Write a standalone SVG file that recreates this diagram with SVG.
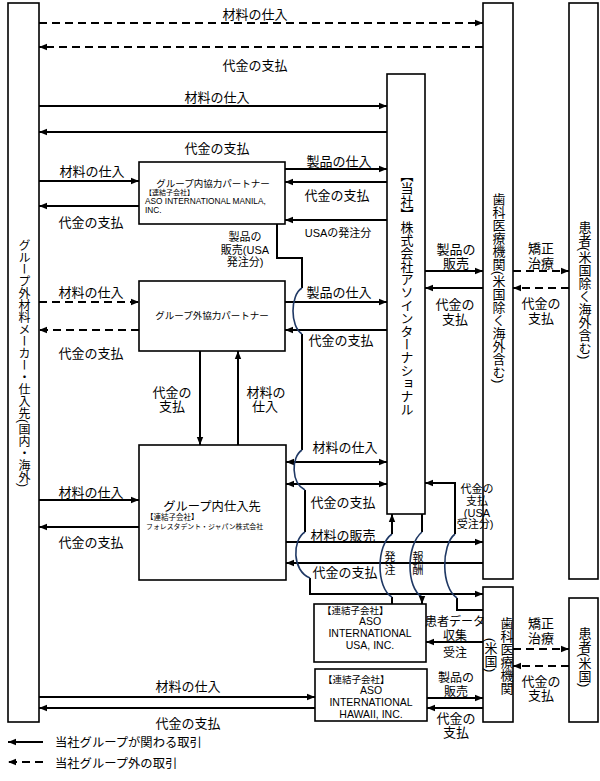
<svg xmlns="http://www.w3.org/2000/svg" width="600" height="781" viewBox="0 0 600 781">
<style>
.box{fill:#fff;stroke:#000;stroke-width:1.6}
.ln{fill:none;stroke:#000;stroke-width:2}
.ds{fill:none;stroke:#000;stroke-width:2;stroke-dasharray:8 5}
.hop{fill:none;stroke:#1f3864;stroke-width:1.6}
text{font-family:"Liberation Sans","Noto Sans CJK JP",sans-serif;fill:#000}
.lb{font-size:13px;text-anchor:middle}
.lb2{font-size:12px;text-anchor:middle}
.sm{font-size:11px;text-anchor:middle}
.vt{font-size:13px;text-anchor:middle;writing-mode:vertical-rl}
.tiny{font-size:7px}
.en{font-size:10.5px;text-anchor:middle}
</style>
<defs>
<marker id="ah" viewBox="0 0 10 10" refX="10" refY="5" markerWidth="8" markerHeight="8" markerUnits="userSpaceOnUse" orient="auto-start-reverse"><path d="M0,1 L10,5 L0,9 z" fill="#000"/></marker>
</defs>

<g id="left-supplier"><rect class="box" x="8" y="3" width="31" height="719"/><text class="vt" x="23" y="363" style="font-size:12px">グループ外材料メーカー・仕入先(国内・海外)</text></g>
<g id="company"><rect class="box" x="387" y="74" width="38" height="440"/><text class="vt" x="406" y="292">【当社】株式会社アソインターナショナル</text></g>
<g id="dental-nonus"><rect class="box" x="483" y="3" width="30" height="576"/><text class="vt" x="498" y="288">歯科医療機関(米国除く海外含む)</text></g>
<g id="patient-nonus"><rect class="box" x="569" y="3" width="29" height="576"/><text class="vt" x="584" y="290">患者(米国除く海外含む)</text></g>
<g id="dental-us"><rect class="box" x="483" y="587" width="30" height="135"/><text class="vt" x="506" y="656">歯科医療機関</text><text class="vt" x="490" y="655">(米国)</text></g>
<g id="patient-us"><rect class="box" x="569" y="598" width="29" height="124"/><text class="vt" x="584" y="657">患者(米国)</text></g>
<g id="manila"><rect class="box" x="139" y="162" width="146" height="62"/>
<text x="213" y="187" style="font-size:9.5px;text-anchor:middle">グループ内協力パートナー</text>
<text class="tiny" x="145" y="195">【連結子会社】</text>
<text x="145" y="204" style="font-size:8.3px">ASO INTERNATIONAL MANILA,</text>
<text x="145" y="213" style="font-size:8.3px">INC.</text></g>
<g id="outside-partner"><rect class="box" x="139" y="281" width="146" height="70"/><text x="212" y="319" style="font-size:9.5px;text-anchor:middle">グループ外協力パートナー</text></g>
<g id="internal-supplier"><rect class="box" x="139" y="445" width="147" height="135"/>
<text x="212" y="511" style="font-size:12.3px;text-anchor:middle">グループ内仕入先</text>
<text x="146" y="520" style="font-size:7.5px">【連結子会社】</text>
<text x="146" y="529" style="font-size:6.9px">フォレスタデント・ジャパン株式会社</text></g>
<g id="aso-usa"><rect class="box" x="314" y="604" width="112" height="58"/>
<text x="322" y="614" style="font-size:9.5px">【連結子会社】</text>
<text class="en" x="370" y="625">ASO</text><text class="en" x="370" y="637">INTERNATIONAL</text><text class="en" x="370" y="649">USA, INC.</text></g>
<g id="aso-hawaii"><rect class="box" x="315" y="669" width="112" height="52"/>
<text x="323" y="683" style="font-size:9.5px">【連結子会社】</text>
<text class="en" x="371" y="694">ASO</text><text class="en" x="371" y="706">INTERNATIONAL</text><text class="en" x="371" y="718">HAWAII, INC.</text></g>

<g id="connectors">
<path class="ds" d="M39,23 H483" marker-end="url(#ah)"/>
<path class="ds" d="M483,47 H39" marker-end="url(#ah)"/>
<path class="ln" d="M39,106 H387" marker-end="url(#ah)"/>
<path class="ln" d="M387,132 H39" marker-end="url(#ah)"/>
<path class="ln" d="M39,181 H139" marker-end="url(#ah)"/>
<path class="ln" d="M139,206 H39" marker-end="url(#ah)"/>
<path class="ln" d="M285,169 H387" marker-end="url(#ah)"/>
<path class="ln" d="M387,182 H285" marker-end="url(#ah)"/>
<path class="ln" d="M387,220 H285" marker-end="url(#ah)"/>
<path class="ds" d="M39,302 H139" marker-end="url(#ah)"/>
<path class="ds" d="M139,330 H39" marker-end="url(#ah)"/>
<path class="ln" d="M285,302 H387" marker-end="url(#ah)"/>
<path class="ln" d="M387,330 H285" marker-end="url(#ah)"/>
<path class="ln" d="M200,351 V445" marker-end="url(#ah)"/>
<path class="ln" d="M238,445 V351" marker-end="url(#ah)"/>
<path class="ln" d="M39,500 H139" marker-end="url(#ah)"/>
<path class="ln" d="M139,527 H39" marker-end="url(#ah)"/>
<path class="ln" d="M286,462 H387" marker-start="url(#ah)" marker-end="url(#ah)"/>
<path class="ln" d="M286,484 H387" marker-start="url(#ah)" marker-end="url(#ah)"/>
<path class="ln" d="M286,542 H483" marker-end="url(#ah)"/>
<path class="ln" d="M483,563 H286" marker-end="url(#ah)"/>
<path class="ln" d="M425,271 H483" marker-end="url(#ah)"/>
<path class="ln" d="M483,288 H425" marker-end="url(#ah)"/>
<path class="ds" d="M513,271 H569" marker-end="url(#ah)"/>
<path class="ds" d="M569,288 H513" marker-end="url(#ah)"/>
<path class="ln" d="M483,642 H426" marker-end="url(#ah)"/>
<path class="ln" d="M427,698 H483" marker-end="url(#ah)"/>
<path class="ln" d="M483,708 H427" marker-end="url(#ah)"/>
<path class="ds" d="M513,649 H569" marker-end="url(#ah)"/>
<path class="ds" d="M569,666 H513" marker-end="url(#ah)"/>
<path class="ln" d="M39,697 H315" marker-end="url(#ah)"/>
<path class="ln" d="M315,708 H39" marker-end="url(#ah)"/>
<!-- Manila sales (USA orders) -->
<path class="ln" d="M277,224 V258 H302 V288 M302,334 V450 M305,490 V532 M310,578 V594 H483" marker-end="url(#ah)"/>
<path class="hop" d="M302,288 C290,295 290,327 302,334"/>
<path class="hop" d="M302,450 C291,457 291,483 305,490"/>
<path class="hop" d="M305,532 C292,540 292,571 310,578"/>
<!-- order -->
<path class="ln" d="M392,604 V597"/>
<path class="hop" d="M392,597 C376,588 376,545 392,534"/>
<path class="ln" d="M392,534 V514" marker-end="url(#ah)"/>
<!-- reward -->
<path class="ln" d="M422,514 V532"/>
<path class="hop" d="M422,532 C406,545 406,588 422,597"/>
<path class="ln" d="M422,596 V604" marker-end="url(#ah)"/>
<!-- payment USA -->
<path class="ln" d="M483,610 H457 V598"/>
<path class="hop" d="M457,598 C441,588 441,545 455,534"/>
<path class="ln" d="M455,534 V483 H425" marker-end="url(#ah)"/>
<!-- legend -->
<path class="ln" d="M43,742 H8" marker-end="url(#ah)"/>
<path class="ds" d="M43,762 H8" marker-end="url(#ah)"/>
</g>

<g id="labels">
<text class="lb" x="255" y="19">材料の仕入</text>
<text class="lb" x="255" y="70">代金の支払</text>
<text class="lb" x="217" y="102">材料の仕入</text>
<text class="lb" x="217" y="153">代金の支払</text>
<text class="lb" x="92" y="176">材料の仕入</text>
<text class="lb" x="91" y="227">代金の支払</text>
<text class="lb" x="339" y="166">製品の仕入</text>
<text class="lb" x="337" y="200">代金の支払</text>
<text class="sm" x="338" y="237">USAの発注分</text>
<text class="sm" x="245" y="241">製品の</text>
<text class="sm" x="245" y="254">販売(USA</text>
<text class="sm" x="245" y="266">発注分)</text>
<text class="lb" x="91" y="297">材料の仕入</text>
<text class="lb" x="91" y="358">代金の支払</text>
<text class="lb" x="339" y="297">製品の仕入</text>
<text class="lb" x="341" y="345">代金の支払</text>
<text class="lb" x="172" y="397">代金の</text>
<text class="lb" x="172" y="411">支払</text>
<text class="lb" x="266" y="397">材料の</text>
<text class="lb" x="265" y="411">仕入</text>
<text class="lb" x="91" y="497">材料の仕入</text>
<text class="lb" x="91" y="547">代金の支払</text>
<text class="lb" x="345" y="452">材料の仕入</text>
<text class="lb" x="343" y="507">代金の支払</text>
<text class="lb" x="343" y="540">材料の販売</text>
<text class="lb" x="345" y="577">代金の支払</text>
<text class="sm" x="390" y="561">発</text>
<text class="sm" x="390" y="574">注</text>
<text class="sm" x="418" y="561">報</text>
<text class="sm" x="418" y="574">酬</text>
<text class="sm" x="477" y="493">代金の</text>
<text class="sm" x="477" y="505">支払</text>
<text class="sm" x="477" y="517">(USA</text>
<text class="sm" x="475" y="528">受注分)</text>
<text class="lb" x="456" y="254">製品の</text>
<text class="lb" x="456" y="268">販売</text>
<text class="lb" x="455" y="309">代金の</text>
<text class="lb" x="455" y="324">支払</text>
<text class="lb" x="541" y="253">矯正</text>
<text class="lb" x="541" y="268">治療</text>
<text class="lb" x="541" y="308">代金の</text>
<text class="lb" x="541" y="323">支払</text>
<text class="lb2" x="455" y="626">患者データ</text>
<text class="lb2" x="455" y="640">収集</text>
<text class="lb2" x="455" y="657">受注</text>
<text class="lb2" x="456" y="682">製品の</text>
<text class="lb2" x="456" y="696">販売</text>
<text class="lb" x="456" y="723">代金の</text>
<text class="lb" x="456" y="737">支払</text>
<text class="lb" x="541" y="628">矯正</text>
<text class="lb" x="541" y="643">治療</text>
<text class="lb" x="541" y="686">代金の</text>
<text class="lb" x="541" y="700">支払</text>
<text class="lb" x="188" y="691">材料の仕入</text>
<text class="lb" x="188" y="728">代金の支払</text>
<text x="55" y="747" style="font-size:12.3px">当社グループが関わる取引</text>
<text x="55" y="768" style="font-size:12.3px">当社グループ外の取引</text>
</g>
</svg>
